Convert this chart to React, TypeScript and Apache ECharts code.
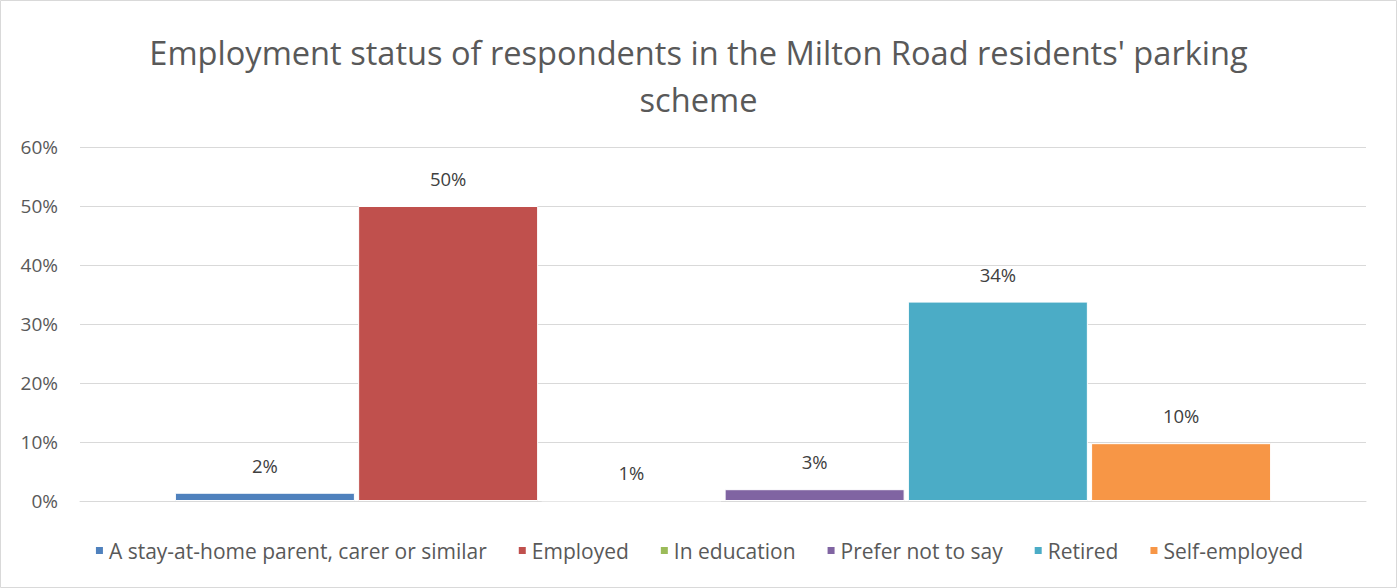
import React, { useEffect, useRef } from "react";
import * as echarts from "echarts";

const titleText = "Employment status of respondents in the Milton Road residents' parking\nscheme";
const categories = [""];
const seriesNames = [
  "A stay-at-home parent, carer or similar",
  "Employed",
  "In education",
  "Prefer not to say",
  "Retired",
  "Self-employed",
];
const seriesValues = [1.4, 50, 0.1, 2.0, 33.8, 9.8];
const labelTexts = ["2%", "50%", "1%", "3%", "34%", "10%"];
const seriesColors = ["#4F81BD", "#C0504D", "#9BBB59", "#8064A2", "#4BACC6", "#F79646"];

export default function App() {
  const ref = useRef<HTMLDivElement>(null);
  useEffect(() => {
    if (!ref.current) return;
    const chart = echarts.init(ref.current, undefined, { renderer: "svg" });
    const font = "'Open Sans', Lato, sans-serif";
    chart.setOption({
      animation: false,
      backgroundColor: "#ffffff",
      textStyle: { fontFamily: font },
      title: {
        text: titleText,
        left: "center",
        top: 24,
        textStyle: {
          fontFamily: font,
          fontSize: 32.6,
          fontWeight: "normal",
          color: "#595959",
          lineHeight: 47,
        },
      },
      graphic: [
        {
          type: "rect",
          shape: { x: 0.5, y: 0.5, width: 1396, height: 587 },
          style: { fill: "none", stroke: "#d9d9d9", lineWidth: 1 },
          silent: true,
        },
      ],
      legend: {
        bottom: 22,
        left: "center",
        itemWidth: 9,
        itemHeight: 9,
        itemGap: 30,
        icon: "rect",
        textStyle: { fontFamily: font, fontSize: 21, color: "#595959" },
        data: seriesNames,
      },
      grid: { left: 80, right: 31, top: 147, bottom: 87 },
      xAxis: {
        type: "category",
        data: categories,
        axisLine: { show: true, lineStyle: { color: "#d9d9d9", width: 1 } },
        axisTick: { show: false },
        axisLabel: { show: false },
      },
      yAxis: {
        type: "value",
        min: 0,
        max: 60,
        interval: 10,
        axisLine: { show: false },
        axisTick: { show: false },
        axisLabel: {
          formatter: "{value}%",
          fontFamily: font,
          fontSize: 19,
          color: "#595959",
          margin: 22,
        },
        splitLine: { lineStyle: { color: "#d9d9d9", width: 1 } },
      },
      series: seriesNames.map((name, i) => ({
        type: "bar",
        name,
        data: [seriesValues[i]],
        barWidth: 180,
        barGap: "1.8%",
        itemStyle: { color: seriesColors[i], borderColor: "#ffffff", borderWidth: 1 },
        label: {
          show: true,
          position: "top",
          distance: 18,
          formatter: () => labelTexts[i],
          fontFamily: font,
          fontSize: 18.5,
          color: "#404040",
        },
      })),
    });
    return () => chart.dispose();
  }, []);
  return (
    <div
      ref={ref}
      style={{ position: "absolute", left: 0, top: 0, width: 1397, height: 588 }}
    />
  );
}
